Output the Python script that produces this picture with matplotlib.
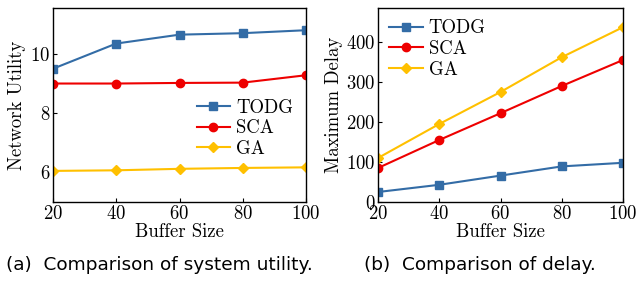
import matplotlib
matplotlib.use('Agg')
import matplotlib.pyplot as plt

# data
buffer_size = [20, 40, 60, 80, 100]

util_todg = [9.5, 10.35, 10.65, 10.7, 10.8]
util_sca  = [9.0, 9.0, 9.02, 9.03, 9.28]
util_ga   = [6.05, 6.07, 6.12, 6.15, 6.17]

delay_todg = [25, 43, 66, 89, 98]
delay_sca  = [85, 155, 222, 290, 355]
delay_ga   = [110, 195, 275, 362, 437]

labels  = ['TODG', 'SCA', 'GA']
colors  = ['#336ca6', '#ee0000', '#ffc000']
markers = ['s', 'o', 'D']
msizes  = [5.5, 6, 5.5]

plt.rcParams['font.family'] = 'cmr10'
plt.rcParams['font.size'] = 13.5
plt.rcParams['axes.formatter.use_mathtext'] = True

fig = plt.figure(figsize=(6.36, 2.82), dpi=100)
ax1 = fig.add_axes([53/636, 80/282, 253/636, 194/282])
ax2 = fig.add_axes([378/636, 80/282, 245/636, 194/282])

for ys, lab, c, m, ms in zip([util_todg, util_sca, util_ga], labels, colors, markers, msizes):
    ax1.plot(buffer_size, ys, color=c, marker=m, markersize=ms, lw=1.5, label=lab)
for ys, lab, c, m, ms in zip([delay_todg, delay_sca, delay_ga], labels, colors, markers, msizes):
    ax2.plot(buffer_size, ys, color=c, marker=m, markersize=ms, lw=1.5, label=lab)

ax1.set_xlim(20, 100)
ax1.set_ylim(5, 11.55)
ax1.set_yticks([6, 8, 10])
ax1.set_ylabel('Network Utility', labelpad=3)
ax1.legend(loc='center right', bbox_to_anchor=(1.0, 0.38), frameon=False,
           handlelength=1.8, handletextpad=0.3, labelspacing=0.15, borderaxespad=0.3)

ax2.set_xlim(20, 100)
ax2.set_ylim(0, 485)
ax2.set_yticks([0, 100, 200, 300, 400])
ax2.set_ylabel('Maximum Delay', labelpad=2)
ax2.legend(loc='upper left', frameon=False,
           handlelength=1.8, handletextpad=0.3, labelspacing=0.15, borderaxespad=0.2)

for ax in (ax1, ax2):
    ax.set_xticks(buffer_size)
    ax.set_xlabel('Buffer Size', labelpad=0)
    ax.tick_params(direction='in', length=3, pad=2)
    for s in ax.spines.values():
        s.set_linewidth(1.0)

fig.text(159/636, 1 - 265/282, '(a)  Comparison of system utility.', ha='center', va='center',
         family='DejaVu Sans', fontsize=13.3)
fig.text(480/636, 1 - 265/282, '(b)  Comparison of delay.', ha='center', va='center',
         family='DejaVu Sans', fontsize=13.3)

fig.savefig('out.png', dpi=100)
